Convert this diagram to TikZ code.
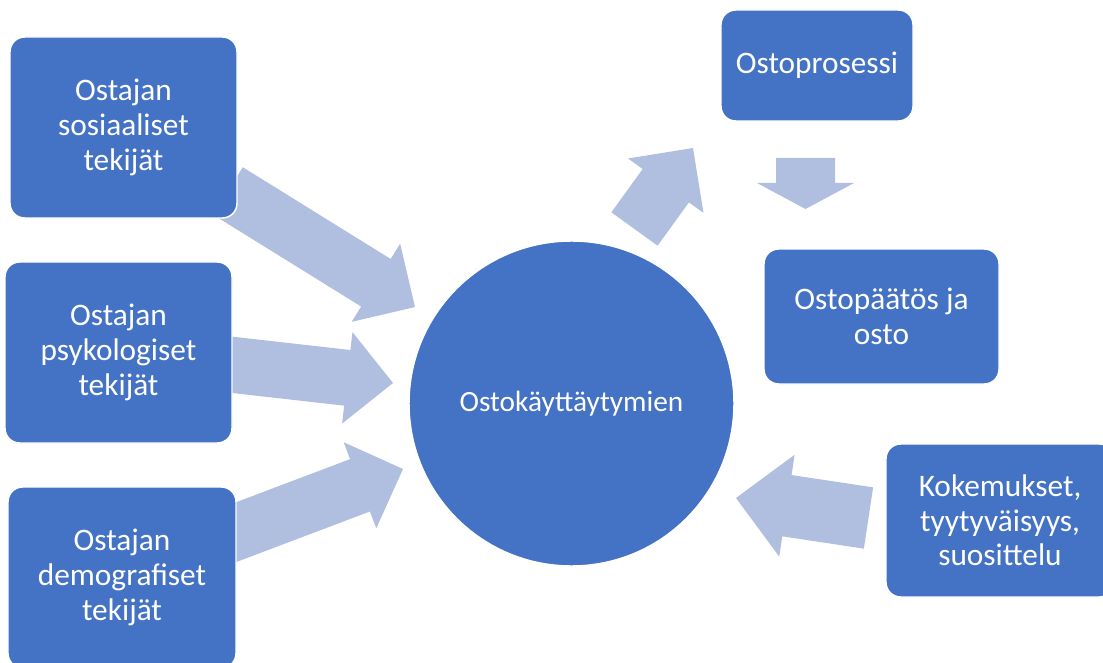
\documentclass[tikz,border=0pt]{standalone}
\usepackage{fontspec}
\setmainfont{Carlito}
\usetikzlibrary{calc}

\definecolor{boxblue}{RGB}{68,114,196}
\definecolor{arrowblue}{RGB}{176,190,223}

\tikzset{
    factor/.style={draw=white, line width=1.1pt, fill=boxblue, rounded corners=11pt,
        text=white, align=center, inner sep=0pt, font=\fontsize{23.5}{26}\selectfont},
    hub/.style={circle, draw=white, line width=1.1pt, fill=boxblue, text=white,
        inner sep=0pt, minimum size=243.75pt, font=\fontsize{22}{26}\selectfont},
}

% block arrow: tail, tip, half shaft, half head, head length (in px)
\newcommand{\blockarrow}[5]{%
    \coordinate (hb) at ($(#2)!#5*0.75pt!(#1)$);
    \fill[arrowblue] ($(#1)!#3*0.75pt!90:(#2)$) -- ($(hb)!#3*0.75pt!90:(#2)$)
        -- ($(hb)!#4*0.75pt!90:(#2)$) -- (#2) -- ($(hb)!#4*0.75pt!-90:(#2)$)
        -- ($(hb)!#3*0.75pt!-90:(#2)$) -- ($(#1)!#3*0.75pt!-90:(#2)$) -- cycle;
}

\begin{document}
\begin{tikzpicture}[x=0.75pt, y=-0.75pt]
    \useasboundingbox (0,0) rectangle (1103,663);
    \clip (0,0) rectangle (1103,663);

    % Arrow ends
    \coordinate (sos-tail) at (228,191);
    \coordinate (sos-tip) at (415,307);
    \coordinate (psy-tail) at (225,364);
    \coordinate (psy-tip) at (393,383);
    \coordinate (dem-tail) at (226,536);
    \coordinate (dem-tip) at (403,469);
    \coordinate (pro-tail) at (634.5,229);
    \coordinate (pro-tip) at (693,148);
    \coordinate (down-tail) at (805.5,158);
    \coordinate (down-tip) at (805.5,209);
    \coordinate (kok-tail) at (868.5,518);
    \coordinate (kok-tip) at (736,498);

    % Draw the arrows
    \blockarrow{sos-tail}{sos-tip}{28}{46}{46}
    \blockarrow{psy-tail}{psy-tip}{28}{46}{46}
    \blockarrow{dem-tail}{dem-tip}{28}{46}{46}
    \blockarrow{pro-tail}{pro-tip}{28.5}{46.5}{46.5}
    \blockarrow{down-tail}{down-tip}{29.5}{48.5}{26}
    \blockarrow{kok-tail}{kok-tip}{31}{51.5}{51.5}

    % Draw the boxes
    \node[factor, minimum width=170.25pt, minimum height=135.75pt] (sos) at (123.5,127.5) {Ostajan\\sosiaaliset\\tekijät};
    \node[factor, minimum width=170.25pt, minimum height=135.75pt] (psy) at (118.5,352.5) {Ostajan\\psykologiset\\tekijät};
    \node[factor, minimum width=171pt, minimum height=135.75pt] (dem) at (122,577.5) {Ostajan\\demografiset\\tekijät};
    \node[factor, minimum width=144pt, minimum height=83.25pt] (pro) at (817,65.5) {Ostoprosessi};
    \node[factor, minimum width=176.25pt, minimum height=101.25pt] (paa) at (881.5,316.5) {Ostopäätös ja\\osto};
    \node[factor, minimum width=171pt, minimum height=114.75pt] (kok) at (1000,520.5) {Kokemukset,\\tyytyväisyys,\\suosittelu};

    % Draw the circle
    \node[hub] (ost) at (571.5,403.5) {Ostokäyttäytymien};
\end{tikzpicture}
\end{document}
